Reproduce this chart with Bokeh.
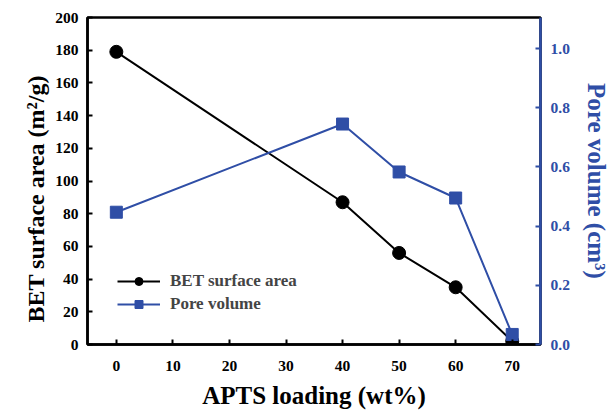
from bokeh.plotting import figure
from bokeh.models import Range1d, LinearAxis, FixedTicker, Legend, LegendItem, NumeralTickFormatter, Title
from bokeh.embed import file_html
from bokeh.resources import INLINE

loading = [0, 40, 50, 60, 70]
bet_area = [179, 87, 56, 35, 2]
pore_volume = [0.447, 0.745, 0.583, 0.495, 0.034]

x_ticks = [0, 10, 20, 30, 40, 50, 60, 70]
left_ticks = [0, 20, 40, 60, 80, 100, 120, 140, 160, 180, 200]
right_ticks = [0.0, 0.2, 0.4, 0.6, 0.8, 1.0]

BLUE = "#2F4EA6"
FONT = "Liberation Serif"

p = figure(width=615, height=412, output_backend="svg", toolbar_location=None,
           x_range=Range1d(-5.1, 75), y_range=Range1d(0, 200),
           min_border_left=87, min_border_right=75, min_border_top=17, min_border_bottom=68)
p.extra_y_ranges = {"pv": Range1d(0, 1.105)}
p.grid.visible = False
p.outline_line_color = "black"
p.outline_line_width = 2.5
p.background_fill_color = "white"
p.border_fill_color = "white"

def style_axis(ax, color):
    ax.axis_line_color = color
    ax.axis_line_width = 2.5
    ax.major_tick_line_color = color
    ax.major_tick_line_width = 2
    ax.major_tick_in = 5
    ax.major_tick_out = 0
    ax.minor_tick_line_color = None
    ax.major_label_text_font = FONT
    ax.major_label_text_font_style = "bold"
    ax.major_label_text_font_size = "15.5px"
    ax.major_label_text_color = color
    ax.axis_label_text_font = FONT
    ax.axis_label_text_font_style = "bold"
    ax.axis_label_text_font_size = "24px"
    ax.axis_label_text_color = color

xa = p.xaxis[0]
style_axis(xa, "black")
xa.ticker = FixedTicker(ticks=x_ticks)
xa.axis_label = "APTS loading (wt%)"
xa.axis_label_text_font_size = "25px"
xa.major_label_standoff = 16
xa.axis_label_standoff = 8

ya = p.yaxis[0]
style_axis(ya, "black")
ya.ticker = FixedTicker(ticks=left_ticks)
ya.major_label_standoff = 9

left_title = Title(text="BET surface area (m\u00b2/g)", align="left",
                   text_font=FONT, text_font_style="bold", text_font_size="24px",
                   text_color="black", standoff=7, offset=22)
p.add_layout(left_title, "left")

ra = LinearAxis(y_range_name="pv")
style_axis(ra, BLUE)
ra.ticker = FixedTicker(ticks=right_ticks)
ra.formatter = NumeralTickFormatter(format="0.0")
ra.axis_label = "Pore volume (cm\u00b3)"
ra.axis_label_text_font_size = "25px"
ra.major_label_standoff = 10
ra.axis_label_standoff = 10
p.add_layout(ra, "right")

bl = p.line(loading, bet_area, line_color="black", line_width=2)
bc = p.scatter(loading, bet_area, marker="circle", size=13, fill_color="black", line_color="black")
pl = p.line(loading, pore_volume, line_color=BLUE, line_width=2, y_range_name="pv")
ps = p.scatter(loading, pore_volume, marker="square", size=12, fill_color=BLUE, line_color=BLUE, y_range_name="pv")

legend = Legend(items=[LegendItem(label="BET surface area", renderers=[bl, bc]),
                       LegendItem(label="Pore volume", renderers=[pl, ps])],
                location=(30, 30))
legend.border_line_color = None
legend.background_fill_alpha = 0
legend.padding = 0
legend.margin = 0
legend.spacing = 3
legend.glyph_width = 43
legend.glyph_height = 20
legend.label_standoff = 10
legend.label_text_font = FONT
legend.label_text_font_style = "bold"
legend.label_text_font_size = "17px"
p.add_layout(legend, "center")

open("out.html", "w").write(file_html(p, INLINE))
